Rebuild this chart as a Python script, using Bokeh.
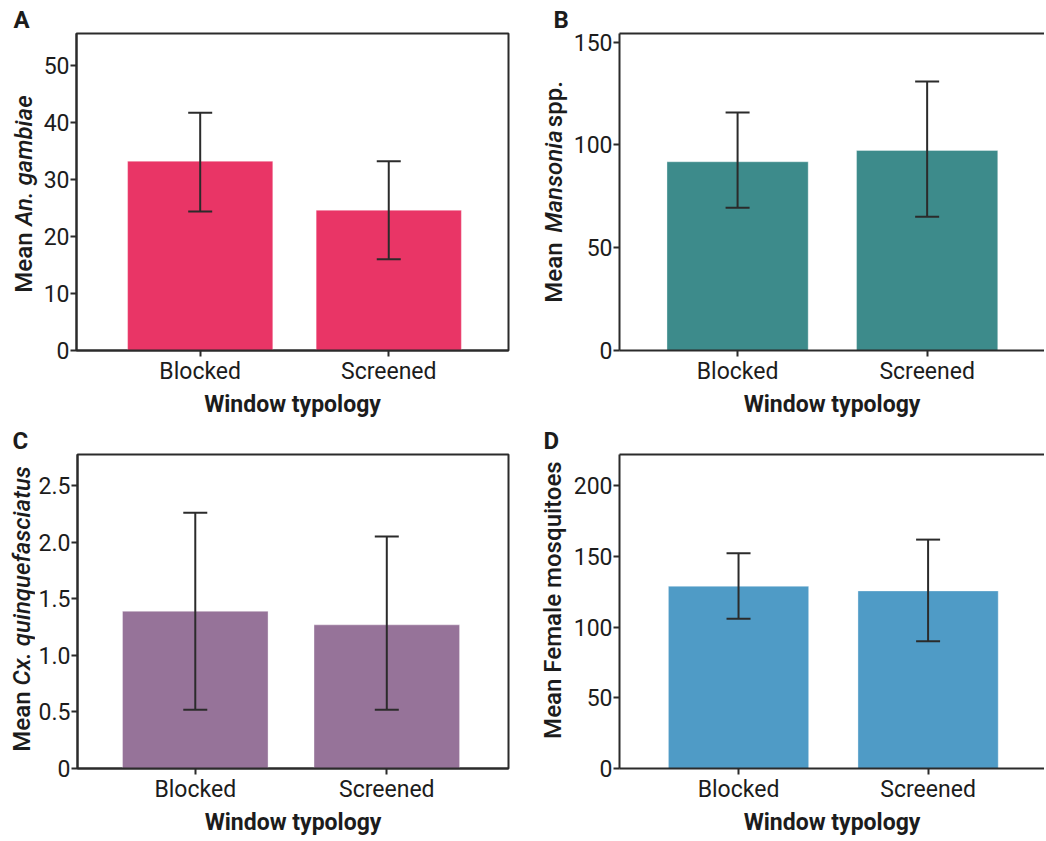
import math
from bokeh.plotting import figure
from bokeh.models import (ColumnDataSource, Range1d, FixedTicker, Whisker, TeeHead, Title,
                          LinearAxis)
from bokeh.layouts import column, row
from bokeh.embed import file_html
from bokeh.resources import INLINE
from bokeh.core.properties import value

# ---------------- data ----------------
categories = ["Blocked", "Screened"]
x_title = "Window typology"

an_gambiae_mean = [33.2, 24.6]
an_gambiae_lower = [24.4, 16.0]
an_gambiae_upper = [41.7, 33.2]

mansonia_mean = [91.8, 97.3]
mansonia_lower = [69.4, 65.1]
mansonia_upper = [115.8, 130.9]

culex_mean = [1.39, 1.27]
culex_lower = [0.52, 0.52]
culex_upper = [2.26, 2.05]

female_mean = [128.9, 125.6]
female_lower = [106.0, 90.0]
female_upper = [152.3, 161.9]

a_ticks = [0, 10, 20, 30, 40, 50]
b_ticks = [0, 50, 100, 150]
c_ticks = [0, 0.5, 1.0, 1.5, 2.0, 2.5]
c_tick_labels = ["0", "0.5", "1.0", "1.5", "2.0", "2.5"]
d_ticks = [0, 50, 100, 150, 200]

# ---------------- style ----------------
DARK = "#2b2b2b"
TXT = "#1c1c1c"
FONT = "Roboto"
YFONT = "Roboto Medium"
TICK_SIZE = "23px"
TITLE_SIZE = "23px"
YLAB_PX = 24
PANEL_SIZE = "24px"


def make_strip(x0, w, h, top, bottom, frame_top_page, letter, letter_off, parts):
    """Narrow figure (no axes): panel letter as its title, rotated y-axis title as text."""
    fh = h - top - bottom
    s = figure(width=w, height=h, output_backend="svg", toolbar_location=None,
               x_range=Range1d(x0, x0 + w),
               y_range=Range1d(frame_top_page + fh, frame_top_page),
               x_axis_location=None, y_axis_location=None,
               min_border_left=0, min_border_right=0, min_border_top=top,
               min_border_bottom=bottom, outline_line_color=None,
               background_fill_color="white", border_fill_color="white")
    s.title = Title(text=letter, align="left", offset=letter_off, standoff=0,
                    text_font=FONT, text_font_size=PANEL_SIZE, text_font_style="bold",
                    text_color=TXT)
    s.xgrid.visible = False
    s.ygrid.visible = False
    for txt, style, px, py in parts:
        s.text(x=[px], y=[py], text=[txt], angle=math.pi / 2, text_font=value(YFONT),
               text_font_size=value(f"{YLAB_PX}px"), text_font_style=value(style),
               text_color=TXT, text_align="left", text_baseline="middle")
    return s


def make_plot(width, height, borders, x_start, x_px, y_end, ticks, tick_labels,
              mean, lower, upper, color, bar_width, full_box):
    bl, br, bt, bb = borders
    fw = width - bl - br
    x_end = x_start + fw / x_px
    p = figure(width=width, height=height, output_backend="svg", toolbar_location=None,
               x_range=Range1d(x_start, x_end), y_range=Range1d(0, y_end),
               min_border_left=bl, min_border_right=br, min_border_top=bt,
               min_border_bottom=bb, background_fill_color="white",
               border_fill_color="white")
    p.xgrid.visible = False
    p.ygrid.visible = False
    xa = p.below[0]
    ya = p.left[0]
    if full_box:
        p.outline_line_color = DARK
        p.outline_line_width = 2
        p.outline_line_alpha = 1
    else:
        # top border only (the right side runs off the page in the original)
        p.outline_line_color = None
        top_axis = LinearAxis(ticker=FixedTicker(ticks=[]), axis_line_color=DARK,
                              axis_line_width=2, major_tick_line_color=None,
                              minor_tick_line_color=None, major_tick_out=0,
                              major_label_standoff=0)
        p.add_layout(top_axis, "above")

    xs = list(range(1, len(categories) + 1))
    src = ColumnDataSource(dict(x=xs, top=mean, lower=lower, upper=upper, cat=categories))
    p.vbar(x="x", top="top", bottom=0, width=bar_width, source=src, fill_color=color,
           line_color="white", line_alpha=0.35, line_width=1)
    w = Whisker(source=src, base="x", upper="upper", lower="lower", line_color=DARK,
                line_width=2, level="annotation",
                upper_head=TeeHead(size=24, line_color=DARK, line_width=2),
                lower_head=TeeHead(size=24, line_color=DARK, line_width=2))
    p.add_layout(w)

    for ax in (xa, ya):
        ax.axis_line_color = DARK
        ax.axis_line_width = 2
        ax.major_tick_line_color = DARK
        ax.major_tick_line_width = 2
        ax.major_tick_out = 6
        ax.major_tick_in = 0
        ax.minor_tick_line_color = None
        ax.major_label_text_font = FONT
        ax.major_label_text_font_size = TICK_SIZE
        ax.major_label_text_color = TXT
        ax.major_label_standoff = 1
    xa.ticker = FixedTicker(ticks=xs)
    xa.major_label_overrides = {x: c for x, c in zip(xs, categories)}
    xa.axis_label = x_title
    xa.axis_label_text_font = FONT
    xa.axis_label_text_font_size = TITLE_SIZE
    xa.axis_label_text_font_style = "bold"
    xa.axis_label_text_color = TXT
    xa.axis_label_standoff = 3
    ya.ticker = FixedTicker(ticks=ticks)
    if tick_labels is not None:
        ya.major_label_overrides = {t: s for t, s in zip(ticks, tick_labels)}
    return p


H1, H2 = 420, 418
T1, B1 = 33, 69      # row 1 top / bottom borders
T2, B2 = 34, 66      # row 2 top / bottom borders
MID = YLAB_PX * 0.34  # baseline -> em-middle shift for rotated text

sA = make_strip(0, 40, H1, T1, B1, T1, "A", 13,
                [("Mean", "normal", 32 - MID, 293), ("An. gambiae", "italic", 32 - MID, 226)])
pA = make_plot(480, H1, (35, 12, T1, B1), 0.344, 189.0, 55.6, a_ticks, None,
               an_gambiae_mean, an_gambiae_lower, an_gambiae_upper, "#E93566", 0.77, True)

sB = make_strip(520, 50, H1, T1, B1, T1, "B", 33,
                [("Mean", "normal", 562 - MID, 303), ("Mansonia", "italic", 562 - MID, 233),
                 ("spp.", "normal", 562 - MID, 127)])
pB = make_plot(474, H1, (48, 0, T1, B1), 0.377, 190.0, 154.2, b_ticks, None,
               mansonia_mean, mansonia_lower, mansonia_upper, "#3D8B8B", 0.745, False)

sC = make_strip(0, 35, H2, T2, B2, H1 + T2, "C", 12,
                [("Mean", "normal", 30 - MID, 755),
                 ("Cx. quinquefasciatus", "italic", 30 - MID, 688)])
pC = make_plot(485, H2, (40, 12, T2, B2), 0.385, 192.4, 2.776, c_ticks, c_tick_labels,
               culex_mean, culex_lower, culex_upper, "#967399", 0.76, True)

sD = make_strip(520, 50, H2, T2, B2, H1 + T2, "D", 23,
                [("Mean Female mosquitoes", "normal", 561 - MID, 742)])
pD = make_plot(474, H2, (48, 0, T2, B2), 0.372, 190.0, 222.1, d_ticks, None,
               female_mean, female_lower, female_upper, "#4F9BC6", 0.74, False)

layout = column(row(sA, pA, sB, pB), row(sC, pC, sD, pD))
open("out.html", "w").write(file_html(layout, INLINE))
